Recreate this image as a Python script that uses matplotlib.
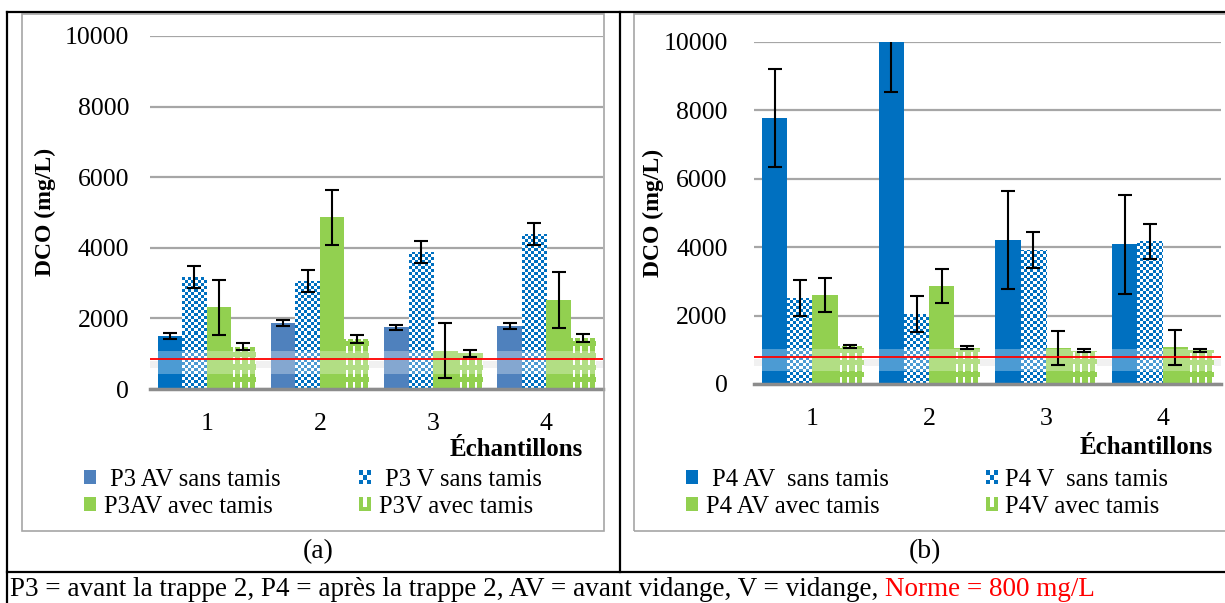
import numpy as np
import matplotlib
matplotlib.use("Agg")
import matplotlib.pyplot as plt
from matplotlib.patches import Rectangle, Patch
from matplotlib.lines import Line2D
from matplotlib.legend_handler import HandlerBase

plt.rcParams['font.family'] = ['Liberation Serif', 'DejaVu Serif']

W, H = 1225, 603

echantillons = ['1', '2', '3', '4']

# ---- (a) P3 ----
p3_av_sans = [1500, 1860, 1745, 1780]
p3_av_sans_err = [80, 85, 80, 80]
p3_v_sans = [3180, 3060, 3870, 4380]
p3_v_sans_err = [305, 320, 310, 310]
p3_av_avec = [2310, 4860, 1090, 2520]
p3_av_avec_err = [780, 790, 790, 790]
p3_v_avec = [1200, 1415, 1010, 1440]
p3_v_avec_err = [100, 105, 95, 105]

# ---- (b) P4 ----
p4_av_sans = [7780, 10000, 4210, 4090]
p4_av_sans_err = [1440, 1460, 1440, 1450]
p4_v_sans = [2510, 2050, 3920, 4170]
p4_v_sans_err = [520, 520, 520, 520]
p4_av_avec = [2600, 2870, 1050, 1070]
p4_av_avec_err = [490, 490, 490, 500]
p4_v_avec = [1100, 1060, 975, 980]
p4_v_avec_err = [45, 45, 35, 50]

labels_a = [' P3 AV sans tamis', 'P3AV avec tamis', ' P3 V sans tamis', 'P3V avec tamis']
labels_b = [' P4 AV  sans tamis', 'P4 AV avec tamis', 'P4 V  sans tamis', 'P4V avec tamis']

# red line as drawn on each panel (Norme = 800 mg/L)
norme_line = [850, 800]

BLUE = "#0070C0"
STEEL = "#4F81BD"
GREEN = "#92D050"
GRID = "#A6A6A6"


def px(x, y):
    """pixel (from top-left) -> figure fraction"""
    return x / W, 1 - y / H


def checker_mask(nx, ny, cell=3):
    yy, xx = np.mgrid[0:ny, 0:nx]
    return ((xx // cell + yy // cell) % 2) == 0


def slit_mask(nx, ny):
    yy, xx = np.mgrid[0:ny, 0:nx]
    # white slits on green
    return ~(((xx % 7) >= 2) & ((xx % 7) <= 3) & ((yy % 12) < 7))


def pattern_bars(ax, bars, mask_fn, fg):
    fg_rgba = np.array(matplotlib.colors.to_rgba(fg))
    for b in bars:
        x0, y0 = b.get_x(), b.get_y()
        x1, y1 = x0 + b.get_width(), y0 + b.get_height()
        p0 = ax.transData.transform((x0, y0))
        p1 = ax.transData.transform((x1, y1))
        nx = max(int(round(p1[0] - p0[0])), 1)
        ny = max(int(round(p1[1] - p0[1])), 1)
        m = mask_fn(nx, ny)
        img = np.ones((ny, nx, 4))
        img[m] = fg_rgba
        im = ax.imshow(img, extent=(x0, x1, y0, y1), origin='lower',
                       interpolation='nearest', aspect='auto', zorder=2)
        im.set_clip_path(b)


class PatternHandler(HandlerBase):
    def __init__(self, fg, kind):
        super().__init__()
        self.fg = fg
        self.kind = kind

    def create_artists(self, legend, orig_handle, xdescent, ydescent,
                       width, height, fontsize, trans):
        arts = []
        n = 3
        cw, ch = width / n, height / n
        for i in range(n):
            for j in range(n):
                if self.kind == 'checker':
                    on = (i + j) % 2 == 0
                else:
                    on = not (i == 1 and j > 0)
                if on:
                    arts.append(Rectangle((-xdescent + i * cw, -ydescent + j * ch), cw, ch,
                                          facecolor=self.fg, edgecolor='none', transform=trans))
        return arts


fig = plt.figure(figsize=(W / 100, H / 100), dpi=100)

# frames
for (x0, y0, x1, y1) in [(7, 12, 1225, 12), (7, 12, 7, 603), (620, 12, 620, 572), (7, 572, 1225, 572)]:
    a, b = px(x0, y0)
    c, d = px(x1, y1)
    fig.add_artist(Line2D([a, c], [b, d], color='black', lw=1.6, transform=fig.transFigure))
for (x0, y0, x1, y1) in [(22, 14, 604, 531), (634, 14, 1240, 531)]:
    a, b = px(x0, y1)
    fig.add_artist(Rectangle((a, b), (x1 - x0) / W, (y1 - y0) / H, fill=False,
                             edgecolor=GRID, lw=1.2, transform=fig.transFigure))

panels = [
    dict(rect=(150, 36, 603, 389),
         series=[(p3_av_sans, p3_av_sans_err), (p3_v_sans, p3_v_sans_err),
                 (p3_av_avec, p3_av_avec_err), (p3_v_avec, p3_v_avec_err)],
         first_colors=[BLUE, STEEL, STEEL, STEEL], leg_color=STEEL, labels=labels_a,
         ypad=15, ylab=(45, 212), xlab=(583, 450), tag=('(a)', 318, 552),
         leg=(84, 469), colsp=3.2),
    dict(rect=(754, 42, 1221, 384),
         series=[(p4_av_sans, p4_av_sans_err), (p4_v_sans, p4_v_sans_err),
                 (p4_av_avec, p4_av_avec_err), (p4_v_avec, p4_v_avec_err)],
         first_colors=[BLUE] * 4, leg_color=BLUE, labels=labels_b,
         ypad=19, ylab=(653, 213), xlab=(1213, 447), tag=('(b)', 925, 552),
         leg=(686, 469), colsp=3.95),
]

x = np.arange(len(echantillons))
w = 0.216
offs = [-1.5, -0.5, 0.5, 1.5]

for k, p in enumerate(panels):
    l, t, r, b = p['rect']
    ax = fig.add_axes([l / W, 1 - b / H, (r - l) / W, (b - t) / H])
    ax.set_xlim(-0.5, len(echantillons) - 0.5)
    ax.set_ylim(0, 10000)
    ax.set_yticks(np.arange(0, 10001, 2000))
    ax.set_xticks(x)
    ax.set_xticklabels(echantillons)
    ax.tick_params(axis='y', length=0, pad=p['ypad'], labelsize=18.5)
    ax.tick_params(axis='x', length=0, pad=17.5, labelsize=18.5)
    ax.grid(axis='y', color=GRID, lw=1.6, zorder=0)
    ax.set_axisbelow(True)
    for s in ['top', 'right', 'left']:
        ax.spines[s].set_visible(False)
    ax.spines['bottom'].set_color('#8C8C8C')
    ax.spines['bottom'].set_linewidth(2.5)
    ax.patch.set_alpha(0)

    (v1, e1), (v2, e2), (v3, e3), (v4, e4) = p['series']
    ekw = dict(fmt='none', ecolor='black', elinewidth=1.5, capsize=5, capthick=1.5, zorder=5)

    ax.bar(x + offs[0] * w, v1, w, color=p['first_colors'], zorder=2)
    bars2 = ax.bar(x + offs[1] * w, v2, w, color='white', zorder=2)
    pattern_bars(ax, bars2, checker_mask, BLUE)
    ax.bar(x + offs[2] * w, v3, w, color=GREEN, zorder=2)
    bars4 = ax.bar(x + offs[3] * w, v4, w, color=GREEN, zorder=2)
    pattern_bars(ax, bars4, slit_mask, GREEN)
    for o, (v, e) in zip(offs, p['series']):
        ax.errorbar(x + o * w, v, yerr=e, **ekw)

    # hazy band around the norm line
    ax.axhspan(norme_line[k] - 420, norme_line[k] + 230, color='white', alpha=0.3, zorder=4, lw=0)
    ax.axhspan(norme_line[k] - 260, norme_line[k] - 60, color='#D9D9D9', alpha=0.5, zorder=1, lw=0)
    ax.axhline(norme_line[k], color='red', lw=1.3, zorder=6)

    fig.text(*px(*p['ylab']), 'DCO (mg/L)', rotation=90, ha='center', va='center',
             fontsize=17, fontweight='bold')
    fig.text(*px(*p['xlab']), 'Échantillons', ha='right', va='center',
             fontsize=18, fontweight='bold')
    fig.text(*px(p['tag'][1], p['tag'][2]), p['tag'][0], ha='center', va='center', fontsize=20)

    h_av_sans = Patch(facecolor=p['leg_color'])
    h_av_avec = Patch(facecolor=GREEN)
    h_v_sans = Patch(facecolor='white')
    h_v_avec = Patch(facecolor=GREEN)
    leg = ax.legend([h_av_sans, h_av_avec, h_v_sans, h_v_avec], p['labels'], ncol=2,
                    loc='upper left', bbox_to_anchor=px(*p['leg']), bbox_transform=fig.transFigure,
                    frameon=False, fontsize=17.7, borderpad=0, borderaxespad=0,
                    handlelength=0.5, handleheight=0.5, handletextpad=0.3,
                    labelspacing=0.2, columnspacing=p['colsp'],
                    handler_map={h_v_sans: PatternHandler(BLUE, 'checker'),
                                 h_v_avec: PatternHandler(GREEN, 'slit')})

foot = fig.text(*px(10, 590),
                'P3 = avant la trappe 2, P4 = après la trappe 2, AV = avant vidange, V = vidange, ',
                ha='left', va='center', fontsize=19.5)
ax.annotate('Norme = 800 mg/L', xy=(1, 0.5), xycoords=foot, ha='left', va='center',
            fontsize=19.5, color='red', annotation_clip=False)

fig.savefig('out.png', dpi=100)
